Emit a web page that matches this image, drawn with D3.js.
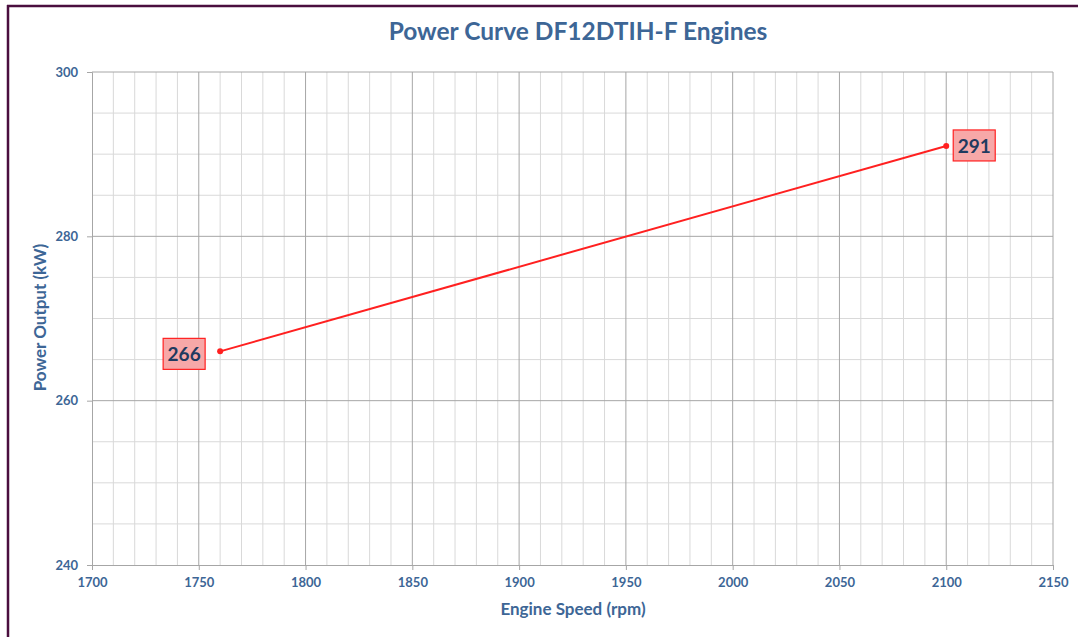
<!DOCTYPE html>
<html>
<head>
<meta charset="utf-8">
<script src="https://d3js.org/d3.v7.min.js"></script>
<style>
  body { margin: 0; background: #fff; }
  text { font-family: Lato, "Open Sans", sans-serif; }
</style>
</head>
<body>
<div id="chart"></div>
<script>
var speeds = [1760, 2100];
var powers = [266, 291];
var xTicks = [1700, 1750, 1800, 1850, 1900, 1950, 2000, 2050, 2100, 2150];
var yTicks = [240, 260, 280, 300];

var W = 1078, H = 637;
var margin = { top: 72, right: 25, bottom: 72, left: 92 };
var width = W - margin.left - margin.right,
    height = H - margin.top - margin.bottom;

var blue = "#3d6696";

var svg = d3.select("#chart").append("svg")
    .attr("width", W)
    .attr("height", H);

// outer frame (top and left edges visible)
svg.append("line").attr("x1", 7).attr("x2", W).attr("y1", 6).attr("y2", 6)
    .attr("stroke", "#4a0f3e").attr("stroke-width", 2.5);
svg.append("line").attr("x1", 8).attr("x2", 8).attr("y1", 5).attr("y2", H)
    .attr("stroke", "#4a0f3e").attr("stroke-width", 2.5);

var g = svg.append("g").attr("transform", "translate(" + margin.left + "," + margin.top + ")");

var x = d3.scaleLinear().domain([1700, 2150]).range([0, width]);
var y = d3.scaleLinear().domain([240, 300]).range([height, 0]);

// minor grid
g.append("g").selectAll("line").data(d3.range(1710, 2150, 10).filter(function(d) { return d % 50 != 0; }))
    .enter().append("line")
    .attr("x1", function(d) { return x(d); }).attr("x2", function(d) { return x(d); })
    .attr("y1", 0).attr("y2", height)
    .attr("stroke", "#d9d9d9").attr("stroke-width", 1);
g.append("g").selectAll("line").data(d3.range(245, 300, 5).filter(function(d) { return d % 20 != 0; }))
    .enter().append("line")
    .attr("y1", function(d) { return y(d); }).attr("y2", function(d) { return y(d); })
    .attr("x1", 0).attr("x2", width)
    .attr("stroke", "#d9d9d9").attr("stroke-width", 1);

// major grid
g.append("g").selectAll("line").data(xTicks.slice(1))
    .enter().append("line")
    .attr("x1", function(d) { return x(d); }).attr("x2", function(d) { return x(d); })
    .attr("y1", 0).attr("y2", height)
    .attr("stroke", "#a6a6a6").attr("stroke-width", 1);
g.append("g").selectAll("line").data(yTicks.slice(1))
    .enter().append("line")
    .attr("y1", function(d) { return y(d); }).attr("y2", function(d) { return y(d); })
    .attr("x1", 0).attr("x2", width)
    .attr("stroke", "#a6a6a6").attr("stroke-width", 1);

// axes
var xAxis = g.append("g").attr("transform", "translate(0," + height + ")")
    .call(d3.axisBottom(x).tickValues(xTicks).tickSize(5).tickPadding(8).tickFormat(d3.format("d")));
var yAxis = g.append("g")
    .call(d3.axisLeft(y).tickValues(yTicks).tickSize(5).tickPadding(9).tickFormat(d3.format("d")));
[xAxis, yAxis].forEach(function(a) {
    a.select(".domain").attr("stroke", "#a6a6a6");
    a.selectAll(".tick line").attr("stroke", "#a6a6a6");
    a.selectAll("text").attr("fill", blue).attr("font-size", 13).attr("font-weight", "bold")
        .style("font-family", "Lato, sans-serif");
});

// line
var line = d3.line().x(function(d) { return x(d[0]); }).y(function(d) { return y(d[1]); });
var pts = speeds.map(function(s, i) { return [s, powers[i]]; });
g.append("path").datum(pts).attr("d", line)
    .attr("fill", "none").attr("stroke", "#ff2020").attr("stroke-width", 2);
g.selectAll("circle.pt").data(pts).enter().append("circle")
    .attr("class", "pt")
    .attr("cx", function(d) { return x(d[0]); })
    .attr("cy", function(d) { return y(d[1]); })
    .attr("r", 3).attr("fill", "#ff2020");

// data labels
var lbl = g.selectAll("g.lbl").data(pts).enter().append("g").attr("class", "lbl")
    .attr("transform", function(d, i) {
        var dx = i == 0 ? -36 : 28;
        var dy = i == 0 ? 3 : 0;
        return "translate(" + (x(d[0]) + dx) + "," + (y(d[1]) + dy) + ")";
    });
lbl.append("rect").attr("x", -21).attr("y", -16).attr("width", 42).attr("height", 31)
    .attr("fill", "#f7a8a8").attr("stroke", "#ff2020").attr("stroke-width", 1.2);
lbl.append("text").attr("text-anchor", "middle").attr("dy", "0.35em")
    .attr("fill", "#1f3a5f").attr("font-size", 19).attr("font-weight", "bold")
    .text(function(d) { return d[1]; });

// titles
svg.append("text").attr("x", 578).attr("y", 40).attr("text-anchor", "middle")
    .attr("fill", blue).attr("font-size", 24.5).attr("font-weight", "bold")
    .text("Power Curve DF12DTIH-F Engines");
svg.append("text").attr("x", 573).attr("y", 615).attr("text-anchor", "middle")
    .attr("fill", blue).attr("font-size", 17).attr("font-weight", "bold")
    .text("Engine Speed (rpm)");
svg.append("text").attr("transform", "translate(46," + (margin.top + height / 2 - 1) + ") rotate(-90)")
    .attr("text-anchor", "middle")
    .attr("fill", blue).attr("font-size", 17).attr("font-weight", "bold")
    .text("Power Output (kW)");
</script>
</body>
</html>
